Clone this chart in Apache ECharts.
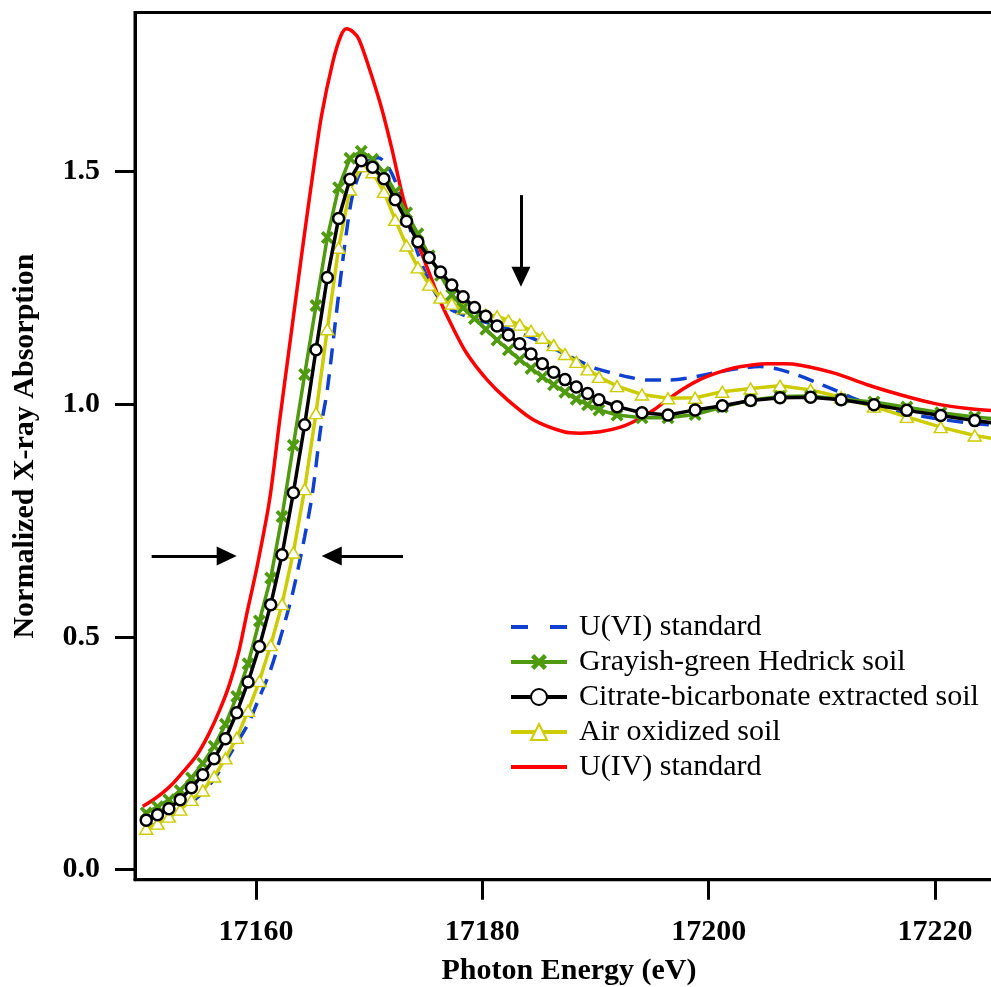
<!DOCTYPE html>
<html>
<head>
<meta charset="utf-8">
<script src="https://cdn.jsdelivr.net/npm/echarts@6/dist/echarts.min.js"></script>
<style>
  html, body { margin: 0; padding: 0; background: #fff; }
  #chart { width: 991px; height: 987px; }
</style>
</head>
<body>
<div id="chart"></div>
<script>
// energies (eV) where the three soil spectra were sampled
var energy = [17150.3, 17151.3, 17152.3, 17153.3, 17154.3, 17155.3, 17156.3, 17157.3, 17158.3, 17159.3,
  17160.3, 17161.3, 17162.3, 17163.3, 17164.3, 17165.3, 17166.3, 17167.3, 17168.3, 17169.3,
  17170.3, 17171.3, 17172.3, 17173.3, 17174.3, 17175.3, 17176.3, 17177.3, 17178.3, 17179.3,
  17180.3, 17181.3, 17182.3, 17183.3, 17184.3, 17185.3, 17186.3, 17187.3, 17188.3, 17189.3,
  17190.3, 17191.9, 17194.1, 17196.4, 17198.8, 17201.2, 17203.7, 17206.3, 17209.0, 17211.7,
  17214.6, 17217.5, 17220.5, 17223.5, 17226.5];

var grayishGreen = [0.122, 0.135, 0.150, 0.170, 0.197, 0.228, 0.265, 0.312, 0.372, 0.442,
  0.534, 0.626, 0.758, 0.911, 1.063, 1.211, 1.357, 1.464, 1.527, 1.542,
  1.525, 1.497, 1.455, 1.410, 1.365, 1.318, 1.276, 1.234, 1.206, 1.183,
  1.160, 1.137, 1.116, 1.095, 1.076, 1.058, 1.041, 1.025, 1.010, 0.998,
  0.987, 0.976, 0.970, 0.970, 0.977, 0.993, 1.008, 1.016, 1.017, 1.010,
  1.004, 0.993, 0.981, 0.972, 0.965];

var citrate = [0.106, 0.118, 0.131, 0.150, 0.176, 0.204, 0.238, 0.281, 0.337, 0.403,
  0.479, 0.569, 0.676, 0.809, 0.955, 1.116, 1.271, 1.398, 1.482, 1.522,
  1.508, 1.483, 1.438, 1.392, 1.348, 1.314, 1.283, 1.255, 1.230, 1.207,
  1.188, 1.167, 1.148, 1.129, 1.107, 1.086, 1.068, 1.052, 1.036, 1.022,
  1.009, 0.994, 0.981, 0.976, 0.987, 0.996, 1.007, 1.013, 1.014, 1.009,
  0.998, 0.986, 0.975, 0.964, 0.955];

var airOxidized = [0.088, 0.099, 0.114, 0.129, 0.150, 0.170, 0.200, 0.239, 0.283, 0.341,
  0.405, 0.482, 0.570, 0.681, 0.817, 0.980, 1.160, 1.335, 1.460, 1.510,
  1.497, 1.455, 1.395, 1.340, 1.293, 1.256, 1.228, 1.215, 1.205, 1.198,
  1.191, 1.188, 1.179, 1.170, 1.157, 1.142, 1.126, 1.107, 1.090, 1.074,
  1.058, 1.038, 1.020, 1.012, 1.013, 1.026, 1.033, 1.039, 1.030, 1.014,
  0.994, 0.972, 0.950, 0.932, 0.920];

// U(VI) standard
var u6Energy = [17150.3, 17151.3, 17152.3, 17153.3, 17154.3, 17155.3, 17156.3, 17157.3, 17158.3, 17159.3,
  17160.3, 17161.3, 17162.3, 17163.3, 17164.3, 17165.0, 17165.7, 17166.3, 17167.1, 17167.9,
  17168.5, 17169.2, 17170.0, 17170.8, 17171.5, 17172.3, 17173.2, 17174.2, 17175.2, 17176.2,
  17177.2, 17178.2, 17179.3, 17180.3, 17181.5, 17182.8, 17184.4, 17186.2, 17188.2, 17190.0,
  17191.5, 17193.0, 17194.6, 17196.3, 17198.0, 17199.8, 17201.4, 17203.0, 17204.5, 17206.2,
  17207.8, 17209.5, 17211.1, 17212.8, 17214.6, 17216.5, 17218.2, 17220.5, 17222.6, 17224.7, 17227.0];
var u6Value = [0.090, 0.100, 0.113, 0.128, 0.145, 0.165, 0.195, 0.232, 0.272, 0.313,
  0.370, 0.430, 0.510, 0.600, 0.715, 0.810, 0.945, 1.030, 1.194, 1.352,
  1.445, 1.497, 1.522, 1.528, 1.515, 1.478, 1.410, 1.330, 1.268, 1.225,
  1.203, 1.192, 1.182, 1.175, 1.168, 1.156, 1.141, 1.120, 1.096, 1.076,
  1.066, 1.057, 1.051, 1.051, 1.055, 1.063, 1.071, 1.077, 1.080, 1.074,
  1.062, 1.046, 1.030, 1.012, 0.995, 0.983, 0.976, 0.967, 0.960, 0.955, 0.950];

// U(IV) standard
var u4Energy = [17150.0, 17150.8, 17151.8, 17152.7, 17153.7, 17154.8, 17155.8, 17156.8, 17157.7, 17158.5,
  17159.2, 17160.1, 17161.2, 17162.1, 17163.0, 17164.0, 17165.0, 17165.8, 17166.8, 17167.5,
  17168.0, 17168.6, 17169.1, 17169.9, 17171.0, 17172.0, 17173.0, 17174.0, 17175.0, 17176.2,
  17177.2, 17178.6, 17180.4, 17182.2, 17184.5, 17187.2, 17188.6, 17190.4, 17192.2, 17193.7,
  17195.2, 17196.3, 17197.8, 17199.3, 17200.8, 17202.2, 17203.7, 17205.2, 17206.7, 17208.1,
  17211.1, 17214.0, 17217.0, 17219.9, 17222.9, 17226.0];
var u4Value = [0.136, 0.148, 0.166, 0.186, 0.214, 0.247, 0.290, 0.343, 0.401, 0.470,
  0.551, 0.651, 0.794, 0.966, 1.131, 1.314, 1.490, 1.620, 1.735, 1.790,
  1.805, 1.798, 1.782, 1.728, 1.643, 1.548, 1.442, 1.365, 1.300, 1.225,
  1.173, 1.109, 1.052, 1.009, 0.966, 0.940, 0.937, 0.940, 0.950, 0.966,
  0.988, 1.008, 1.033, 1.053, 1.067, 1.077, 1.083, 1.086, 1.086, 1.083,
  1.066, 1.041, 1.019, 1.001, 0.990, 0.984];

var xTicks = [17160, 17180, 17200, 17220];
var yTicks = [0.0, 0.5, 1.0, 1.5];

function pairs(xs, ys) {
  return xs.map(function (x, i) { return [x, ys[i]]; });
}

var FONT = 'Liberation Serif';
var crossPath = 'path://M0,2L2,0L5,3L8,0L10,2L7,5L10,8L8,10L5,7L2,10L0,8L3,5Z';

var myChart = echarts.init(document.getElementById('chart'));

var option = {
  animation: false,
  backgroundColor: '#fff',
  grid: {
    left: 135, top: 12.5, right: -12, bottom: 107.3,
    outerBoundsMode: 'none',
    show: true, borderColor: '#000', borderWidth: 3
  },
  legend: {
    orient: 'vertical',
    left: 504, top: 607,
    itemWidth: 56, itemHeight: 20, itemGap: 5,
    lineStyle: { width: 4 },
    textStyle: { fontFamily: FONT, fontSize: 30, color: '#000', lineHeight: 30, padding: [0, 0, 0, 7] },
    data: [
      { name: 'U(VI) standard', itemStyle: { opacity: 0 }, lineStyle: { type: [17, 22] } },
      'Grayish-green Hedrick soil',
      'Citrate-bicarbonate extracted soil',
      'Air oxidized soil',
      { name: 'U(IV) standard', itemStyle: { opacity: 0 } }
    ]
  },
  xAxis: {
    type: 'value',
    min: 17149.309, max: 17226,
    name: 'Photon Energy (eV)',
    nameLocation: 'middle', nameGap: 77,
    nameTextStyle: { fontFamily: FONT, fontSize: 30, fontWeight: 'bold', color: '#000' },
    axisLine: { onZero: false, lineStyle: { color: '#000', width: 3 } },
    axisTick: { customValues: xTicks, length: 20, lineStyle: { color: '#000', width: 3 } },
    axisLabel: {
      customValues: xTicks, margin: 38,
      fontFamily: FONT, fontSize: 30, fontWeight: 'bold', color: '#000',
      formatter: function (v) { return String(v); }
    },
    splitLine: { show: false }
  },
  yAxis: {
    type: 'value',
    min: -0.0214, max: 1.840,
    name: 'Normalized X-ray Absorption',
    nameLocation: 'middle', nameGap: 95, nameRotate: 90,
    nameTextStyle: { fontFamily: FONT, fontSize: 30, fontWeight: 'bold', color: '#000' },
    axisLine: { onZero: false, lineStyle: { color: '#000', width: 3 } },
    axisTick: { customValues: yTicks, length: 20, lineStyle: { color: '#000', width: 3 } },
    axisLabel: {
      customValues: yTicks, margin: 35, padding: [4, 0, 0, 0],
      fontFamily: FONT, fontSize: 30, fontWeight: 'bold', color: '#000',
      formatter: function (v) { return v.toFixed(1); }
    },
    splitLine: { show: false }
  },
  series: [
    {
      name: 'U(VI) standard', type: 'line', z: 2,
      data: pairs(u6Energy, u6Value),
      symbol: 'none', smooth: 0.3,
      lineStyle: { color: '#1040d0', width: 3.5, type: [16, 10] },
      itemStyle: { color: '#1040d0' }
    },
    {
      name: 'Grayish-green Hedrick soil', type: 'line', z: 5,
      data: pairs(energy, grayishGreen),
      symbol: crossPath, symbolSize: 13,
      lineStyle: { color: '#4f9a0f', width: 3.5 },
      itemStyle: { color: '#4f9a0f' }
    },
    {
      name: 'Citrate-bicarbonate extracted soil', type: 'line', z: 6,
      data: pairs(energy, citrate),
      symbol: 'circle', symbolSize: 11,
      lineStyle: { color: '#000', width: 3.5 },
      itemStyle: { color: '#fff', borderColor: '#000', borderWidth: 2.5 },
      markLine: {
        silent: true,
        symbol: ['none', 'triangle'],
        symbolSize: [19, 20],
        label: { show: false },
        lineStyle: { color: '#000', width: 3, type: 'solid' },
        data: [
          [{ coord: [17150.78, 0.6735] }, { coord: [17157.41, 0.6735] }],
          [{ coord: [17172.99, 0.6735] }, { coord: [17166.69, 0.6735] }],
          [{ coord: [17183.41, 1.448] }, { coord: [17183.41, 1.2726] }]
        ]
      }
    },
    {
      name: 'Air oxidized soil', type: 'line', z: 4,
      data: pairs(energy, airOxidized),
      symbol: 'triangle', symbolSize: [13, 11],
      lineStyle: { color: '#cccc00', width: 3.5 },
      itemStyle: { color: '#fff', borderColor: '#cccc00', borderWidth: 1.5 }
    },
    {
      name: 'U(IV) standard', type: 'line', z: 3,
      data: pairs(u4Energy, u4Value),
      symbol: 'none', smooth: 0.3,
      lineStyle: { color: '#ff0000', width: 3.5 },
      itemStyle: { color: '#ff0000' }
    }
  ]
};

myChart.setOption(option);
</script>
</body>
</html>
